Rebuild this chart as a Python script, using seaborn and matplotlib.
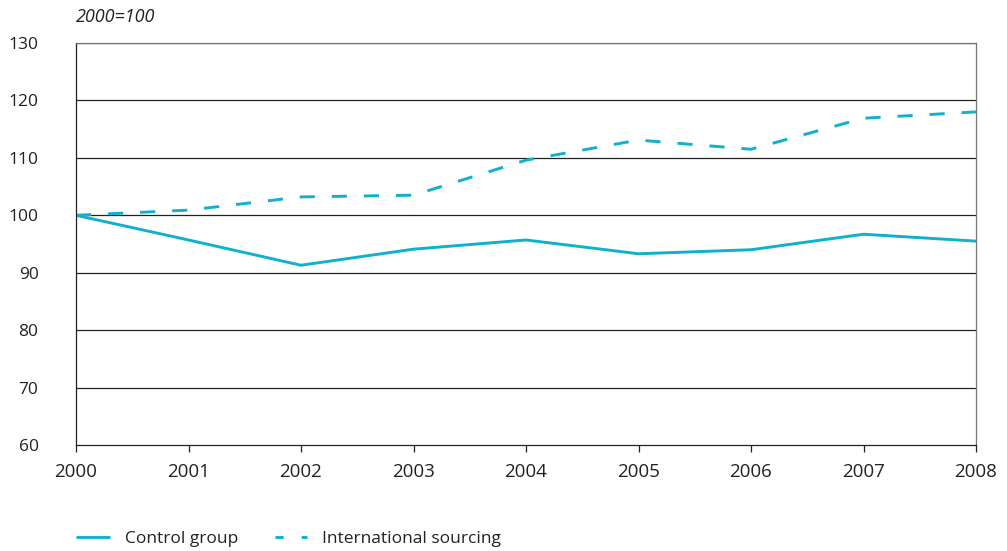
import matplotlib
matplotlib.use("Agg")
import matplotlib.pyplot as plt
import seaborn as sns
import pandas as pd
from matplotlib.lines import Line2D

years = [2000, 2001, 2002, 2003, 2004, 2005, 2006, 2007, 2008]
control_group = [100.0, 95.7, 91.3, 94.1, 95.7, 93.3, 94.0, 96.7, 95.5]
international_sourcing = [100.0, 100.9, 103.2, 103.5, 109.6, 113.1, 111.5, 116.9, 118.0]
series_names = ["Control group", "International sourcing"]
y_ticks = [60, 70, 80, 90, 100, 110, 120, 130]

sns.set_theme(style="white")
plt.rcParams["font.family"] = ["Open Sans", "DejaVu Sans"]

df = pd.DataFrame({
    "year": years * 2,
    "index": control_group + international_sourcing,
    "series": [series_names[0]] * len(years) + [series_names[1]] * len(years),
})

color = "#0FB1CC"
lw = 2.1
fig = plt.figure(figsize=(10.07, 5.51), dpi=100)
ax = fig.add_axes([76 / 1007, 1 - 445 / 551, 900 / 1007, 402 / 551])

sns.lineplot(
    data=df, x="year", y="index", style="series",
    dashes={series_names[0]: "", series_names[1]: (5.2, 5.8)},
    color=color, linewidth=lw, ax=ax, legend=False,
)

ax.set_xlim(years[0], years[-1])
ax.set_ylim(60, 130)
ax.set_xticks(years)
ax.set_yticks(y_ticks)
ax.set_xlabel("")
ax.set_ylabel("")
for y in y_ticks[1:]:
    ax.axhline(y, color="#222222", linewidth=0.9, zorder=0)

for side in ["left", "bottom"]:
    ax.spines[side].set_color("#222222")
    ax.spines[side].set_linewidth(0.9)
for side in ["top", "right"]:
    ax.spines[side].set_color("#777777")
    ax.spines[side].set_linewidth(0.9)

ax.tick_params(axis="x", bottom=True, length=5, width=0.9, color="#222222",
               labelsize=13.5, pad=8, labelcolor="#222222")
ax.tick_params(axis="y", left=False, length=0, labelsize=12.5, pad=27,
               labelcolor="#222222")

fig.text(76 / 1007, 1 - 17 / 551, "2000=100", fontsize=13, style="italic",
         color="#222222", ha="left", va="center")

handles = [
    Line2D([], [], color=color, linewidth=lw),
    Line2D([], [], color=color, linewidth=lw, dashes=(2.8, 6.2)),
]
fig.legend(handles, series_names, loc="center left",
           bbox_to_anchor=(72 / 1007, 1 - 539 / 551), ncol=2, frameon=False,
           fontsize=12.5, handlelength=1.85, columnspacing=2.1, handletextpad=0.9,
           labelcolor="#222222", borderaxespad=0, borderpad=0.3)

fig.savefig("out.png", dpi=100)
